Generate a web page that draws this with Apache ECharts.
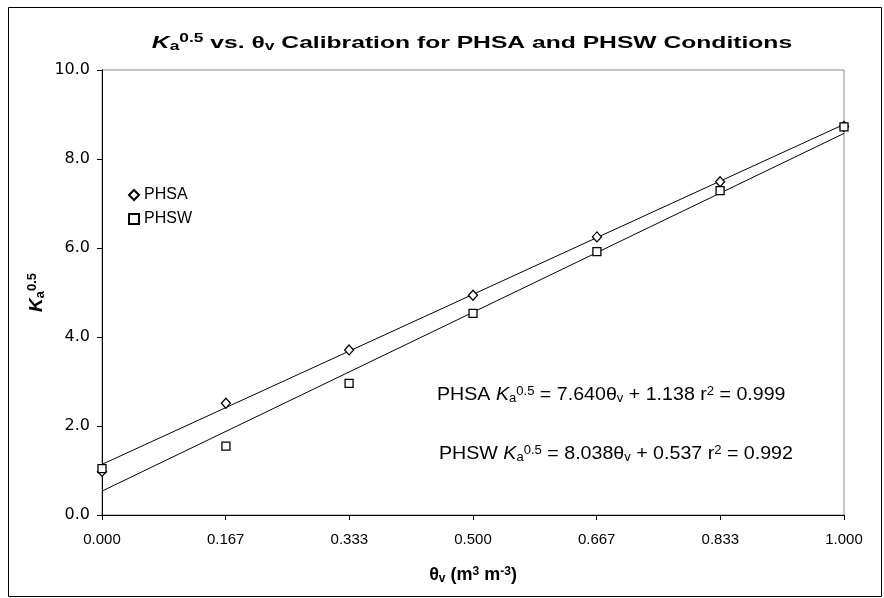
<!DOCTYPE html>
<html>
<head>
<meta charset="utf-8">
<script src="https://cdn.jsdelivr.net/npm/echarts@6/dist/echarts.min.js"></script>
<style>
  html, body { margin: 0; padding: 0; background: #fff; }
  #chart { width: 884px; height: 598px; }
</style>
</head>
<body>
<div id="chart"></div>
<script>
// Volumetric water content (m3 m-3)
const thetaV = [0, 0.167, 0.333, 0.5, 0.667, 0.833, 1.0];
// Square root of apparent dielectric, measured
const phsaKa = [0.98, 2.51, 3.71, 4.94, 6.25, 7.49, 8.73];
const phswKa = [1.04, 1.55, 2.96, 4.53, 5.92, 7.29, 8.72];
// Linear fits: [slope, intercept, r2]
const phsaFit = [7.640, 1.138, 0.999];
const phswFit = [8.038, 0.537, 0.992];
// Axis tick labels
const xTickLabels = ['0.000', '0.167', '0.333', '0.500', '0.667', '0.833', '1.000'];
const yTickLabels = ['0.0', '2.0', '4.0', '6.0', '8.0', '10.0'];

const FONT = 'Liberation Sans, Arial, sans-serif';
const WIDE = 'DejaVu Sans, Liberation Sans, sans-serif';

function fitLine(fit) {
  const x0 = thetaV[0], x1 = thetaV[thetaV.length - 1];
  return [[x0, fit[0] * x0 + fit[1]], [x1, fit[0] * x1 + fit[1]]];
}
function eqText(name, fit) {
  return name + ' {ki|K}{sub|a}{sup|0.5} = ' + fit[0].toFixed(3) + 'θ{sub|v} + ' +
    fit[1].toFixed(3) + ' r{sup|2} = ' + fit[2].toFixed(3);
}
const eqRich = {
  ki: { fontStyle: 'italic', fontSize: 18, fontFamily: FONT, fill: '#000' },
  sub: { fontSize: 12, fontFamily: FONT, fill: '#000', verticalAlign: 'bottom', padding: [7, 0, 0, 0] },
  sup: { fontSize: 12, fontFamily: FONT, fill: '#000', verticalAlign: 'top', padding: [0, 0, 7, 0] }
};
const titleRich = {
  ki: { fontFamily: FONT, fontSize: 17, fontWeight: 'bold', fontStyle: 'italic', fill: '#000' },
  sub: { fontFamily: FONT, fontSize: 12, fontWeight: 'bold', fill: '#000', verticalAlign: 'bottom', padding: [8, 0, 0, 0] },
  sup: { fontFamily: FONT, fontSize: 12, fontWeight: 'bold', fill: '#000', verticalAlign: 'top', padding: [0, 0, 8, 0] }
};

const chart = echarts.init(document.getElementById('chart'));
chart.setOption({
  animation: false,
  backgroundColor: '#fff',
  legend: {
    orient: 'vertical',
    left: 123,
    top: 182,
    itemGap: 8,
    itemWidth: 10,
    itemHeight: 10,
    textStyle: { fontFamily: FONT, fontSize: 16, color: '#000' },
    data: ['PHSA', 'PHSW']
  },
  grid: {
    left: 102, right: 40, top: 70, bottom: 83,
    show: true, borderColor: '#888', borderWidth: 1, backgroundColor: '#fff'
  },
  xAxis: {
    type: 'value',
    min: 0, max: 1, interval: 1 / 6,
    name: '{t|θ}{sub|v}{t| (m}{sup|3}{t| m}{sup|-3}{t|)}',
    nameLocation: 'middle',
    nameGap: 51,
    nameMoveOverlap: false,
    nameTextStyle: {
      rich: {
        t: { fontFamily: FONT, fontSize: 18, fontWeight: 'bold', color: '#000' },
        sub: { fontFamily: FONT, fontSize: 12, fontWeight: 'bold', color: '#000', verticalAlign: 'bottom', padding: [7, 0, 0, 0] },
        sup: { fontFamily: FONT, fontSize: 12, fontWeight: 'bold', color: '#000', verticalAlign: 'top', padding: [0, 0, 7, 0] }
      }
    },
    axisLine: { onZero: false, lineStyle: { color: '#000', width: 1 } },
    axisTick: { show: true, length: 5, lineStyle: { color: '#000' } },
    splitLine: { show: false },
    axisLabel: {
      fontFamily: FONT, fontSize: 15, color: '#000', margin: 17,
      formatter: v => xTickLabels[Math.round(v * 6)]
    }
  },
  yAxis: {
    type: 'value',
    min: 0, max: 10, interval: 2,
    name: '{ki|K}{sub|a}{sup|0.5}',
    nameLocation: 'middle',
    nameGap: 55,
    nameMoveOverlap: false,
    nameTextStyle: {
      rich: {
        ki: { fontFamily: FONT, fontSize: 19, fontWeight: 'bold', fontStyle: 'italic', color: '#000' },
        sub: { fontFamily: FONT, fontSize: 13, fontWeight: 'bold', color: '#000', verticalAlign: 'bottom', padding: [8, 0, 0, 0] },
        sup: { fontFamily: FONT, fontSize: 13, fontWeight: 'bold', color: '#000', verticalAlign: 'top', padding: [0, 0, 8, 0] }
      }
    },
    axisLine: { show: true, onZero: false, lineStyle: { color: '#000', width: 1 } },
    axisTick: { show: true, length: 5, lineStyle: { color: '#000' } },
    splitLine: { show: false },
    axisLabel: {
      fontFamily: WIDE, fontSize: 16, color: '#000', margin: 12,
      formatter: v => yTickLabels[Math.round(v / 2)]
    }
  },
  series: [
    {
      name: 'PHSA fit', type: 'line', data: fitLine(phsaFit), showSymbol: false, silent: true,
      lineStyle: { color: '#000', width: 1 }, z: 2
    },
    {
      name: 'PHSW fit', type: 'line', data: fitLine(phswFit), showSymbol: false, silent: true,
      lineStyle: { color: '#000', width: 1 }, z: 2
    },
    {
      name: 'PHSA', type: 'scatter', symbol: 'diamond', symbolSize: [9, 10],
      data: thetaV.map((x, i) => [x, phsaKa[i]]),
      itemStyle: { color: '#fff', borderColor: '#000', borderWidth: 1.3, opacity: 1 }, z: 3
    },
    {
      name: 'PHSW', type: 'scatter', symbol: 'rect', symbolSize: 8,
      data: thetaV.map((x, i) => [x, phswKa[i]]),
      itemStyle: { color: '#fff', borderColor: '#000', borderWidth: 1.3, opacity: 1 }, z: 3
    }
  ],
  graphic: [
    {
      type: 'rect', silent: true, z: 100,
      shape: { x: 8.5, y: 7.5, width: 873, height: 589 },
      style: { fill: 'none', stroke: '#000', lineWidth: 1 }
    },
    {
      // chart title, set wide
      type: 'text', x: 472, y: 43, scaleX: 1.45, z: 100,
      style: {
        text: '{ki|K}{sub|a}{sup|0.5} vs. θ{sub|v} Calibration for PHSA and PHSW Conditions',
        fontFamily: FONT, fontSize: 17, fontWeight: 'bold', fill: '#000',
        align: 'center', verticalAlign: 'middle', rich: titleRich
      }
    },
    {
      type: 'text', x: 437, y: 395, scaleX: 1.09, z: 100,
      style: { text: eqText('PHSA', phsaFit), fontFamily: FONT, fontSize: 18, fill: '#000',
        align: 'left', verticalAlign: 'middle', rich: eqRich }
    },
    {
      type: 'text', x: 439, y: 454, scaleX: 1.09, z: 100,
      style: { text: eqText('PHSW', phswFit), fontFamily: FONT, fontSize: 18, fill: '#000',
        align: 'left', verticalAlign: 'middle', rich: eqRich }
    }
  ]
});
</script>
</body>
</html>
